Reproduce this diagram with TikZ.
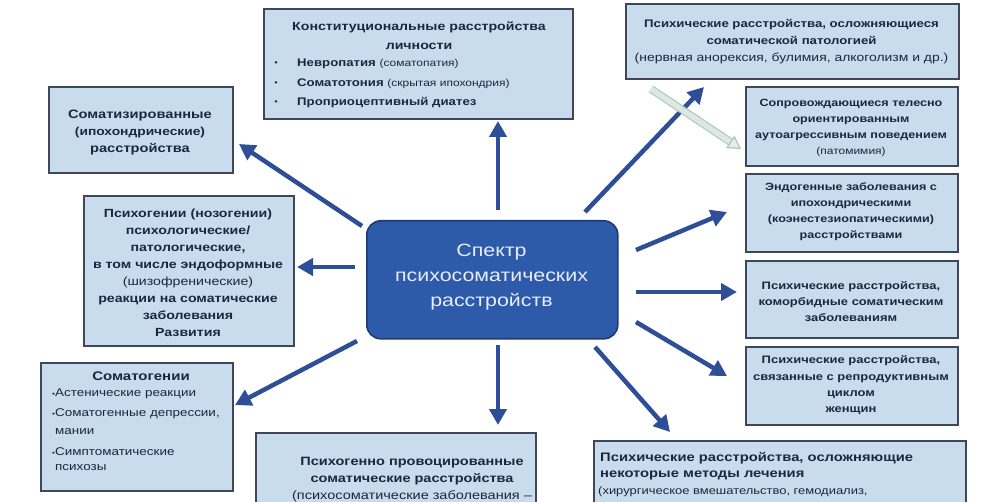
\documentclass[tikz,border=0pt]{standalone}
\usepackage{fontspec}
\setmainfont[FakeStretch=1.2]{Liberation Sans}
\usetikzlibrary{arrows.meta}
\definecolor{boxfill}{HTML}{C8DCEE}
\definecolor{boxline}{HTML}{3E4858}
\definecolor{textcol}{HTML}{1B2740}
\definecolor{arrcol}{HTML}{2F4E98}
\definecolor{cenfill}{HTML}{2E5AAA}
\definecolor{cenline}{HTML}{1E3B72}
\definecolor{centext}{HTML}{E6EDF8}
\definecolor{paleout}{HTML}{A9C3B6}
\definecolor{palein}{HTML}{E2ECE6}
\newcommand{\fsz}[2]{\fontsize{#1}{#2}\selectfont}
\tikzset{
  box/.style={draw=boxline, fill=boxfill, line width=1.6pt, inner sep=0pt, anchor=north west},
  txt/.style={text=textcol, align=center, inner sep=0pt},
  arr/.style={draw=arrcol, line width=4.5pt, -{Triangle[length=16pt,width=17pt]}},
}
\begin{document}
\begin{tikzpicture}[x=1pt,y=-1pt]
\useasboundingbox (0,0) rectangle (995,502);
\clip (0,0) rectangle (995,502);
\fill[white] (0,0) rectangle (995,502);

% centre
\node[draw=cenline, fill=cenfill, line width=1.6pt, rounded corners=14pt,
  minimum width=251pt, minimum height=118pt, anchor=north west] (c) at (366,220) {};
\node[font=\fsz{17.8}{25}, text=centext, align=center, inner sep=0pt] (ct) at (491.5,277)
  {Спектр\\психосоматических\\расстройств};

% top centre
\node[box, minimum width=309pt, minimum height=110pt] (konst) at (263,8) {};
\node[txt, font=\bfseries\fsz{11.8}{19}] (konstt) at (419,35.5) {Конституциональные расстройства\\личности};
\node[txt, font=\fsz{8}{8}] (kb1) at (276,64) {•};
\node[txt, font=\fsz{8}{8}] (kb2) at (276,84) {•};
\node[txt, font=\fsz{8}{8}] (kb3) at (276,103) {•};
\node[txt, anchor=west, font=\bfseries\fsz{11}{14}] (k1) at (297,64) {Невропатия \mdseries\fsz{10}{12}(соматопатия)};
\node[txt, anchor=west, font=\bfseries\fsz{11}{14}] (k2) at (297,84) {Соматотония \mdseries\fsz{10}{12}(скрытая ипохондрия)};
\node[txt, anchor=west, font=\bfseries\fsz{11}{14}] (k3) at (297,103) {Проприоцептивный диатез};

% top right
\node[box, minimum width=333pt, minimum height=75pt] (tr) at (625,3) {};
\node[txt, font=\bfseries\fsz{11}{17}] (trt) at (791.5,42) {Психические расстройства, осложняющиеся\\соматической патологией\\\mdseries\fsz{11.6}{17}(нервная анорексия, булимия, алкоголизм и др.)};

% right boxes
\node[box, minimum width=212pt, minimum height=79pt] (r2) at (745,86) {};
\node[txt, font=\bfseries\fsz{10.5}{16}] (r2t) at (851,128) {Сопровождающиеся телесно\\ориентированным\\аутоагрессивным поведением\\\mdseries\fsz{10}{16}(патомимия)};

\node[box, minimum width=212pt, minimum height=78pt] (r3) at (745,173) {};
\node[txt, font=\bfseries\fsz{10.5}{16}] (r3t) at (851,212) {Эндогенные заболевания с\\ипохондрическими\\(коэнестезиопатическими)\\расстройствами};

\node[box, minimum width=212pt, minimum height=77pt] (r4) at (745,260) {};
\node[txt, font=\bfseries\fsz{10.8}{16}] (r4t) at (851,302) {Психические расстройства,\\коморбидные соматическим\\заболеваниям};

\node[box, minimum width=212pt, minimum height=78pt] (r5) at (745,346) {};
\node[txt, font=\bfseries\fsz{10.8}{16.3}] (r5t) at (851,385.5) {Психические расстройства,\\связанные с репродуктивным\\циклом\\женщин};

% bottom right
\node[box, minimum width=372pt, minimum height=80pt] (br) at (593,440) {};
\node[txt, anchor=west, font=\bfseries\fsz{12.3}{17}] (brt1) at (600,458) {Психические расстройства, осложняющие};
\node[txt, anchor=west, font=\bfseries\fsz{12.3}{17}] (brt2) at (600,475) {некоторые методы лечения};
\node[txt, anchor=west, font=\fsz{10.8}{17}] (brt3) at (598,492) {(хирургическое вмешательство, гемодиализ,};

% bottom centre
\node[box, minimum width=280pt, minimum height=80pt] (bc) at (255,432) {};
\node[txt, font=\bfseries\fsz{12.1}{17}] (bct) at (412,480) {Психогенно провоцированные\\соматические расстройства\\\mdseries(психосоматические заболевания –};

% bottom left
\node[box, minimum width=192pt, minimum height=128pt] (bl) at (40,362) {};
\node[txt, font=\bfseries\fsz{12.5}{16}] (blt) at (141,376) {Соматогении};
\node[txt, anchor=west, font=\fsz{11.2}{16}] (bl1) at (52,394) {\fsz{7}{7}•\fsz{11.2}{16}Астенические реакции};
\node[txt, anchor=west, font=\fsz{11.2}{16}] (bl2) at (52,414) {\fsz{7}{7}•\fsz{11.2}{16}Соматогенные депрессии,};
\node[txt, anchor=west, font=\fsz{11.2}{16}] (bl2b) at (55,432) {мании};
\node[txt, anchor=west, font=\fsz{11.2}{16}] (bl3) at (52,452) {\fsz{7}{7}•\fsz{11.2}{16}Симптоматические};
\node[txt, anchor=west, font=\fsz{11.2}{16}] (bl3b) at (55,468) {психозы};

% left middle
\node[box, minimum width=210pt, minimum height=150pt] (lm) at (83,195) {};
\node[txt, font=\bfseries\fsz{11.8}{17}] (lmt) at (188,272.5) {Психогении (нозогении)\\психологические/\\патологические,\\в том числе эндоформные\\\mdseries(шизофренические)\\\bfseries реакции на соматические\\заболевания\\Развития};

% left top
\node[box, minimum width=184pt, minimum height=86pt] (lt) at (48,86) {};
\node[txt, font=\bfseries\fsz{12.2}{17}] (ltt) at (140,133) {Соматизированные\\\fsz{11.5}{17}(ипохондрические)\\\fsz{12.2}{17}расстройства};

% arrow end points
\coordinate (aU1) at (498,210); \coordinate (aU2) at (498,121);
\coordinate (aUL1) at (362,226); \coordinate (aUL2) at (239,144);
\coordinate (aL1) at (355,267); \coordinate (aL2) at (297,267);
\coordinate (aDL1) at (357,341); \coordinate (aDL2) at (235,405);
\coordinate (aD1) at (498,345); \coordinate (aD2) at (498,425);
\coordinate (aDR1) at (595,347); \coordinate (aDR2) at (670,432);
\coordinate (aR51) at (636,322); \coordinate (aR52) at (727,376);
\coordinate (aR41) at (636,292); \coordinate (aR42) at (737,292);
\coordinate (aR31) at (636,250); \coordinate (aR32) at (727,212);
\coordinate (aUR1) at (585,212); \coordinate (aUR2) at (704,87);
\coordinate (aP1) at (651,89); \coordinate (aP2) at (741,149);

\draw[arr] (aU1) -- (aU2);
\draw[arr] (aUL1) -- (aUL2);
\draw[arr] (aL1) -- (aL2);
\draw[arr] (aDL1) -- (aDL2);
\draw[arr] (aD1) -- (aD2);
\draw[arr] (aDR1) -- (aDR2);
\draw[arr] (aR51) -- (aR52);
\draw[arr] (aR41) -- (aR42);
\draw[arr] (aR31) -- (aR32);
\draw[arr] (aUR1) -- (aUR2);
\draw[draw=paleout, line width=1.2pt, opacity=0.9, double=palein, double distance=5.5pt,
  -{Triangle[open, fill=palein, length=13pt, width=15pt]}] (aP1) -- (aP2);
\end{tikzpicture}
\end{document}
